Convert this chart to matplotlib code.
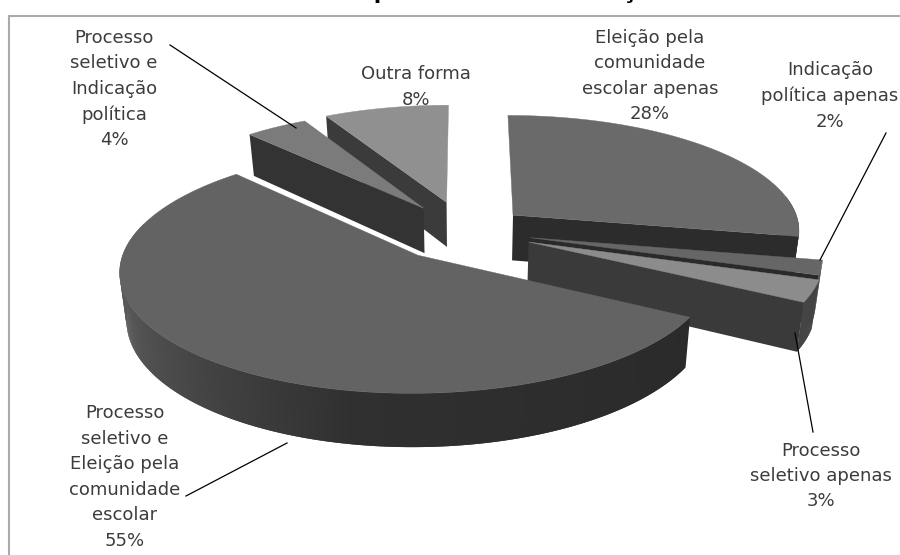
import numpy as np
import matplotlib
matplotlib.use("Agg")
import matplotlib.pyplot as plt

# slices in drawing order of the pie, clockwise from 12 o'clock
labels = ["Eleição pela\ncomunidade\nescolar apenas",
          "Indicação\npolítica apenas",
          "Processo\nseletivo apenas",
          "Processo\nseletivo e\nEleição pela\ncomunidade\nescolar",
          "Processo\nseletivo e\nIndicação\npolítica",
          "Outra forma"]
values = [28, 2, 3, 55, 4, 8]
title = "Forma de provimento da direção"

# style per slice
explode = [0.22, 0.23, 0.238, 0.26, 0.25, 0.265]
top_colors = ["#6a6a6a", "#666666", "#8c8c8c", "#636363", "#7b7b7b", "#909090"]
wall_colors = ["#2c2c2c", "#2a2a2a", "#3a3a3a", "#2a2a2a", "#333333", "#3b3b3b"]
rim_colors = ["#2c2c2c", "#454545", "#454545", None, "#333333", "#3b3b3b"]
label_pos = [(650, 76), (830, 96), (821, 476), (125, 477), (114, 89), (416, 87)]
leaders = [((886, 133), (820, 260)), ((795, 333), (813, 432)),
           ((287, 443), (186, 496)), ((170, 45), (296, 128))]
draw_order = [5, 4, 0, 1, 2, 3]

CX, CY = 465, 231
R, K, P = 288, 0.40, 0.12
DEPTH = 46


def project(xw, yw):
    s = 1 / (1 - P * yw)
    return CX + R * xw * s, CY + R * K * yw * s, s


def extrude(x, y, s):
    return CX + (x - CX) * 0.98, y + DEPTH * s


def big_rim_shade(t):
    return np.interp(t, [118, 190, 250, 300], [0x2a, 0x30, 0x58, 0x5c]) / 255


fig = plt.figure(figsize=(9, 5.55), dpi=100)
ax = fig.add_axes([0, 0, 1, 1])
ax.set_xlim(0, 900)
ax.set_ylim(555, 0)
ax.axis("off")

# chart frame, runs off the right and bottom of the image
ax.plot([9, 9, 900], [555, 16, 16], color="#aaaaaa", lw=1.5, solid_joinstyle="miter")

edges = np.cumsum([0] + values) / sum(values) * 360

for i in draw_order:
    t1, t2 = edges[i], edges[i + 1]
    z = 10 + draw_order.index(i)
    mid = np.radians((t1 + t2) / 2)
    ax0, ay0 = explode[i] * np.sin(mid), -explode[i] * np.cos(mid)
    ts = np.linspace(t1, t2, max(int(t2 - t1) * 2, 4))
    rad = np.radians(ts)
    xr, yr, sr = project(ax0 + np.sin(rad), ay0 - np.cos(rad))
    xa, ya, sa = project(ax0, ay0)
    xb, yb = extrude(xr, yr, sr)
    xab, yab = extrude(xa, ya, sa)

    # only the radial wall that faces the viewer
    if t1 > 180:
        ax.fill([xa, xr[0], xb[0], xab], [ya, yr[0], yb[0], yab],
                color=wall_colors[i], lw=0, zorder=z)
    if t2 < 180:
        ax.fill([xa, xr[-1], xb[-1], xab], [ya, yr[-1], yb[-1], yab],
                color=wall_colors[i], lw=0, zorder=z)

    # outer wall, overlapping quads so the gradient has no seams
    # the back of the rim stays hidden
    for j in range(len(ts) - 1):
        if ts[j] < 80 or ts[j] > 285:
            continue
        k = min(j + 2, len(ts) - 1)
        c = rim_colors[i] or str(big_rim_shade(ts[j]))
        ax.fill([xr[j], xr[k], xb[k], xb[j]], [yr[j], yr[k], yb[k], yb[j]],
                color=c, lw=0, zorder=z)

    ax.fill(np.r_[xa, xr], np.r_[ya, yr], color=top_colors[i], lw=0.3, zorder=z)

for (x1, y1), (x2, y2) in leaders:
    ax.plot([x1, x2], [y1, y2], color="black", lw=0.9, zorder=30)

for lab, val, (x, y) in zip(labels, values, label_pos):
    ax.text(x, y, f"{lab}\n{val}%", ha="center", va="center", fontsize=13,
            color="#3c3c3c", linespacing=1.53, family="DejaVu Sans", zorder=40)

ax.text(456, -3, title, ha="center", va="baseline", fontsize=19.8, fontweight="bold",
        family="Liberation Sans", color="black")

fig.savefig("out.png", dpi=100)
